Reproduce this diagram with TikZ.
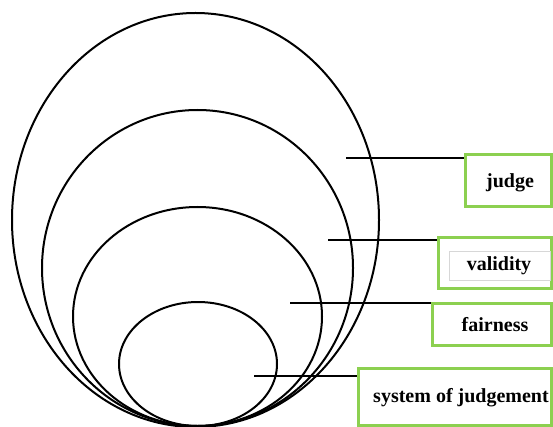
\documentclass[tikz,border=0pt]{standalone}
\usepackage{fontspec}
\setmainfont{Liberation Serif}
\definecolor{boxgreen}{RGB}{140,208,80}
\definecolor{innergray}{RGB}{215,215,215}
\begin{document}
\begin{tikzpicture}[x=1pt,y=-1pt,
  ring/.style={draw=black,line width=2pt},
  lead/.style={draw=black,line width=1.8pt},
  gbox/.style={draw=boxgreen,line width=3pt,inner sep=0pt,minimum width=#1},
  lbl/.style={font=\fontsize{20}{22}\selectfont\bfseries,inner sep=0pt}]
\useasboundingbox (0,0) rectangle (553,427);
% rings
\draw[ring] (195.5,220) ellipse (183.5 and 207);
\draw[ring] (197.5,268) ellipse (155.5 and 158);
\draw[ring] (197.5,316.5) ellipse (124.5 and 109.5);
\draw[ring] (198,364) ellipse (79 and 62);
% boxes
\node[gbox=86pt,minimum height=52pt] (bjudge) at (508,181) {};
\node[gbox=113pt,minimum height=50pt] (bvalid) at (494.5,263) {};
\node[gbox=119pt,minimum height=42pt] (bfair) at (491.5,324) {};
\node[gbox=193pt,minimum height=57pt] (bsys) at (454.5,396.5) {};
\node[draw=innergray,line width=0.8pt,minimum width=101pt,minimum height=29pt,inner sep=0pt] (ivalid) at (499.5,265.5) {};
% labels
\node[lbl] (tjudge) at (510,183) {judge};
\node[lbl] (tvalid) at (499,266) {validity};
\node[lbl] (tfair) at (495,325) {fairness};
\node[lbl] (tsys) at (461,398) {system of judgement};
% leaders
\coordinate (cjudge) at (346,158);
\coordinate (cvalid) at (328,240);
\coordinate (cfair) at (290,303);
\coordinate (csys) at (254,376);
\draw[lead] (cjudge) -- (cjudge -| bjudge.west);
\draw[lead] (cvalid) -- (cvalid -| bvalid.west);
\draw[lead] (cfair) -- (cfair -| bfair.west);
\draw[lead] (csys) -- (csys -| bsys.west);
\end{tikzpicture}
\end{document}
